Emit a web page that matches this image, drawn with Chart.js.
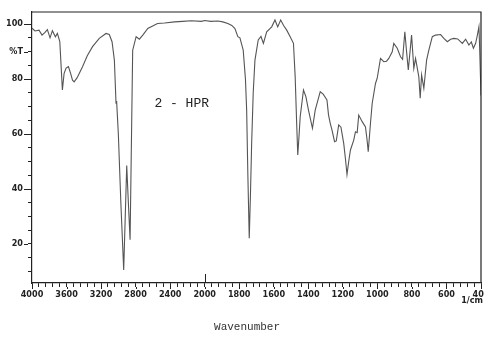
<!DOCTYPE html>
<html>
<head>
<meta charset="utf-8">
<script src="https://cdn.jsdelivr.net/npm/chart.js@4.4.1/dist/chart.umd.min.js"></script>
<style>
  body { margin: 0; background: #fff; }
  canvas { display: block; }
</style>
</head>
<body>
<canvas id="irChart" width="484" height="342"></canvas>
<script>
// spectrum (cm-1 vs %T)
const wavenumbers = [4000,3965,3919,3884,3849,3822,3791,3764,3729,3706,
  3678,3648,3628,3605,3578,3552,3531,3512,3477,3415,
  3360,3299,3221,3143,3105,3073,3046,3027,3020,3000,
  2971,2938,2903,2884,2864,2834,2794,2756,2717,2659,
  2546,2465,2349,2256,2155,2038,2000,1965,1924,1895,
  1866,1843,1825,1808,1796,1777,1764,1757,1750,1742,
  1735,1728,1719,1709,1690,1674,1660,1641,1612,1593,
  1577,1560,1543,1525,1505,1486,1476,1468,1461,1453,
  1447,1428,1414,1399,1376,1360,1331,1314,1292,1283,
  1273,1263,1248,1238,1224,1211,1195,1185,1176,1166,
  1156,1137,1127,1117,1108,1088,1069,1060,1053,1040,
  1030,1011,1001,982,963,947,934,914,905,885,
  866,854,841,831,821,802,789,779,760,752,
  744,731,715,702,682,663,634,615,595,576,
  557,535,508,489,470,456,444,431,421,412,
  408,400];
const transmittance = [98.5,97.5,97.8,96,97,98,95,97.6,95.4,96.6,
  93.6,76,82.1,84,84.5,82,79.6,79,80.5,84.5,
  88.5,91.8,94.8,96.6,96.2,93.6,86.9,71.2,72,60,
  35,10.5,48.5,35,21.5,90.5,95.4,94.5,96,98.4,
  100.2,100.4,100.8,101,101.2,101,101.3,101,101.1,100.8,
  100.2,99.5,98.4,95.4,95,90.5,80,68.7,45,22.1,
  38,56.7,75,86.9,94.2,95.5,93,97.2,99,101.5,
  99,101.5,99.5,97.8,95.4,93,80.8,65,52.4,60,
  66.3,76,73.6,68.7,62.1,68.7,75.4,74.5,72.4,67,
  63.9,61.5,57.2,57.5,63.3,62.5,56.6,51,45.3,50,
  54.2,57.8,60.8,60.5,66.9,64.5,62.6,58,53.6,63.9,
  71.2,78.4,80.3,87.5,86.3,86.5,87.5,89.9,93,91.2,
  88.1,87.2,97.2,90,83.3,96,83.9,87.5,80.8,73,
  81.5,76.6,86.9,90.5,95.4,96,96.2,94.8,93.6,94.5,
  94.8,94.6,93,94.5,92.4,93.5,91.2,93,96,99,
  91.8,74];

const xTicks = [4000,3600,3200,2800,2400,2000,1800,1600,1400,1200,1000,800,600,400];
const yTicks = [20,40,60,80,100];
const yUnitTick = 90; // "%T" sits where 90 would be

// the paper scale doubles below 2000 cm-1
function toU(w) { return w >= 2000 ? (4000 - w) / 2 : 1000 + (2000 - w); }
function fromU(u) { return u <= 1000 ? 4000 - 2 * u : 2000 - (u - 1000); }

const tickFont = { family: "'Liberation Sans Narrow', 'DejaVu Sans Condensed', 'Arial Narrow', sans-serif", size: 9, weight: 'bold' };
const ink = '#222';

const extras = {
  id: 'extras',
  afterDraw(chart) {
    const { ctx, chartArea: a, scales: { x, y } } = chart;
    ctx.save();
    ctx.strokeStyle = ink;
    ctx.lineWidth = 1.2;
    ctx.beginPath();
    ctx.moveTo(a.left, a.top); ctx.lineTo(a.right, a.top); ctx.lineTo(a.right, a.bottom);
    ctx.stroke();

    // longer marks on the labelled ticks
    ctx.lineWidth = 1;
    ctx.beginPath();
    yTicks.concat([yUnitTick]).forEach(v => {
      const py = Math.round(y.getPixelForValue(v)) + 0.5;
      ctx.moveTo(a.left - 8, py); ctx.lineTo(a.left - 4, py);
    });
    xTicks.forEach(w => {
      const px = Math.round(x.getPixelForValue(toU(w))) + 0.5;
      ctx.moveTo(px, a.bottom + 4); ctx.lineTo(px, a.bottom + 6);
    });
    const p2000 = Math.round(x.getPixelForValue(toU(2000))) + 0.5;
    ctx.moveTo(p2000, a.bottom - 9); ctx.lineTo(p2000, a.bottom);
    ctx.stroke();

    ctx.fillStyle = ink;
    ctx.textAlign = 'center';
    ctx.textBaseline = 'middle';
    ctx.font = "13px 'Liberation Mono', monospace";
    ctx.fillText('2 - HPR', x.getPixelForValue(toU(2266)), y.getPixelForValue(71));
    ctx.font = "11px 'Liberation Mono', monospace";
    ctx.fillStyle = '#333';
    ctx.fillText('Wavenumber', a.left + (a.right - a.left) * 0.479, 327);
    ctx.font = "bold 9px 'Liberation Sans Narrow', 'DejaVu Sans Condensed', sans-serif";
    ctx.textAlign = 'right';
    ctx.fillStyle = ink;
    ctx.fillText('1/cm', chart.width - 1, 301);
    ctx.restore();
  }
};

new Chart(document.getElementById('irChart'), {
  type: 'line',
  data: {
    datasets: [{
      data: wavenumbers.map((w, i) => ({ x: toU(w), y: transmittance[i] })),
      borderColor: '#555',
      borderWidth: 1.1,
      pointRadius: 0,
      tension: 0,
      fill: false
    }]
  },
  options: {
    responsive: false,
    animation: false,
    devicePixelRatio: 1,
    layout: { padding: { top: 12, right: 3, left: 0, bottom: 0 } },
    plugins: { legend: { display: false }, tooltip: { enabled: false } },
    scales: {
      x: {
        type: 'linear',
        min: 0, max: 2600,
        border: { color: ink, width: 1.2 },
        grid: { drawOnChartArea: false, color: ink, tickLength: 4 },
        ticks: {
          stepSize: 40, autoSkip: false, maxRotation: 0, padding: 2,
          color: ink, font: tickFont,
          callback: v => xTicks.includes(fromU(v)) ? String(fromU(v)) : ''
        },
        afterFit: s => { s.height = 59; s.paddingLeft = 0; s.paddingRight = 0; }
      },
      y: {
        min: 5.8, max: 104.4,
        border: { color: ink, width: 1.2 },
        grid: { drawOnChartArea: false, color: ink, tickLength: 4 },
        ticks: {
          stepSize: 5, includeBounds: false, autoSkip: false, padding: 5,
          color: ink, font: tickFont,
          callback: v => v === yUnitTick ? '%T' : (yTicks.includes(v) ? String(v) : '')
        },
        afterFit: s => { s.width = 32; s.paddingTop = 0; s.paddingBottom = 0; }
      }
    }
  },
  plugins: [extras]
});
</script>
</body>
</html>
